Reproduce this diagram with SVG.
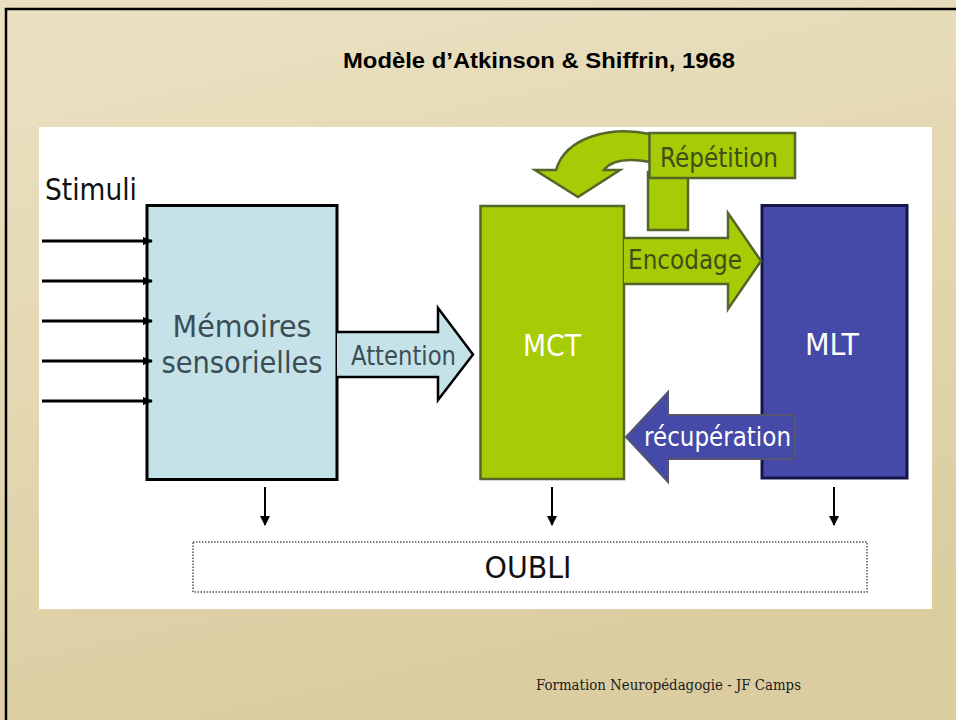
<svg xmlns="http://www.w3.org/2000/svg" width="956" height="720" viewBox="0 0 956 720">
  <defs>
    <linearGradient id="bg" x1="0" y1="0" x2="0.3" y2="1">
      <stop offset="0" stop-color="#ebe1c2"/>
      <stop offset="0.5" stop-color="#e4d8b2"/>
      <stop offset="1" stop-color="#dccda1"/>
    </linearGradient>
    <marker id="ah" markerUnits="userSpaceOnUse" markerWidth="10" markerHeight="10" viewBox="0 0 10 10" refX="9" refY="5" orient="auto">
      <path d="M0,1 L10,5 L0,9 Z" fill="#000"/>
    </marker>
    <marker id="ahd" markerUnits="userSpaceOnUse" markerWidth="10" markerHeight="12" viewBox="0 0 10 12" refX="9" refY="6" orient="auto">
      <path d="M0,1 L10,6 L0,11 Z" fill="#000"/>
    </marker>
    <style>
      .lbl { font-family: "DejaVu Sans", "Verdana", sans-serif; }
      .big { font-size: 31px; }
      .mid { font-size: 26px; }
      .dark { fill: #3b4c55; }
      .olive { fill: #3f4d18; }
      .white { fill: #ffffff; }
      .stim { stroke: #000; stroke-width: 3; fill: none; marker-end: url(#ah); }
      .down { stroke: #000; stroke-width: 2; fill: none; marker-end: url(#ahd); }
      .green { fill: #a5cc05; stroke: #56662a; stroke-width: 2.5; }
      .blue { fill: #4549a8; }
    </style>
  </defs>

  <!-- slide background -->
  <rect x="0" y="0" width="956" height="720" fill="url(#bg)"/>
  <path d="M6,720 V9 H956" fill="none" stroke="#000" stroke-width="2.5"/>

  <!-- title -->
  <text x="539" y="68" text-anchor="middle" font-family="'Liberation Sans', Arial, sans-serif" font-weight="bold" font-size="22" textLength="392" lengthAdjust="spacingAndGlyphs" fill="#000">Modèle d’Atkinson &amp; Shiffrin, 1968</text>

  <!-- white panel -->
  <rect x="39" y="127" width="893" height="482" fill="#ffffff"/>

  <!-- Stimuli label -->
  <text class="lbl big" x="45" y="200" textLength="92" lengthAdjust="spacingAndGlyphs" fill="#111">Stimuli</text>

  <!-- Mémoires sensorielles -->
  <g id="memoires">
    <rect x="147" y="205.5" width="190" height="274" fill="#c4e2e8" stroke="#000" stroke-width="3"/>
    <text class="lbl big dark" x="242" y="337" text-anchor="middle" textLength="139" lengthAdjust="spacingAndGlyphs">Mémoires</text>
    <text class="lbl big dark" x="242" y="373" text-anchor="middle" textLength="161" lengthAdjust="spacingAndGlyphs">sensorielles</text>
  </g>

  <!-- MCT -->
  <g id="mct">
    <rect x="480.5" y="206" width="143.5" height="273" class="green"/>
    <text class="lbl big white" x="552" y="356" text-anchor="middle" textLength="58" lengthAdjust="spacingAndGlyphs">MCT</text>
  </g>

  <!-- MLT -->
  <g id="mlt">
    <rect x="762" y="205.5" width="145" height="272.5" class="blue" stroke="#15164a" stroke-width="3"/>
    <text class="lbl big white" x="832" y="355" text-anchor="middle" textLength="54" lengthAdjust="spacingAndGlyphs">MLT</text>
  </g>

  <!-- OUBLI -->
  <g id="oubli">
    <rect x="193" y="542" width="674" height="50" fill="#ffffff" stroke="#555" stroke-width="1.5" stroke-dasharray="1.5 1.5"/>
    <text class="lbl big" x="528" y="578" text-anchor="middle" textLength="87" lengthAdjust="spacingAndGlyphs" fill="#111">OUBLI</text>
  </g>

  <g id="connectors">
    <!-- stimuli inputs -->
    <g id="stimuli">
      <line class="stim" x1="42" y1="241" x2="152" y2="241"/>
      <line class="stim" x1="42" y1="281" x2="152" y2="281"/>
      <line class="stim" x1="42" y1="321" x2="152" y2="321"/>
      <line class="stim" x1="42" y1="361" x2="152" y2="361"/>
      <line class="stim" x1="42" y1="401" x2="152" y2="401"/>
    </g>

    <!-- Attention arrow -->
    <g id="attention">
      <path d="M337,332 H438 V308 L473,354.5 L438,400 V377 H337" fill="#c4e2e8" stroke="#000" stroke-width="2.5" stroke-linejoin="miter"/>
      <text class="lbl mid dark" x="403.5" y="365" text-anchor="middle" textLength="105" lengthAdjust="spacingAndGlyphs">Attention</text>
    </g>

    <!-- Répétition loop -->
    <g id="repetition">
      <path d="M650,134 C612,126 566,136 556,170 L535,170 L578,197 L620,170 L604,170 C612,160 628,158 650,162 Z" class="green" stroke-linejoin="miter"/>
      <rect x="648" y="172" width="40" height="58" class="green"/>
      <rect x="649.5" y="133" width="145.5" height="45" class="green"/>
      <text class="lbl mid olive" x="719" y="167" text-anchor="middle" textLength="118" lengthAdjust="spacingAndGlyphs">Répétition</text>
    </g>

    <!-- Encodage arrow -->
    <g id="encodage">
      <path d="M624,238 H728 V213 L761,261 L728,309 V284 H624" class="green"/>
      <text class="lbl mid olive" x="685" y="269" text-anchor="middle" textLength="114" lengthAdjust="spacingAndGlyphs">Encodage</text>
    </g>

    <!-- récupération arrow -->
    <g id="recuperation">
      <path d="M795,415 H668 V392 L626,437 L668,482 V459 H795 Z" class="blue" stroke="#55566e" stroke-width="2"/>
      <text class="lbl mid white" x="717.5" y="446" text-anchor="middle" textLength="147" lengthAdjust="spacingAndGlyphs">récupération</text>
    </g>

    <!-- forgetting arrows -->
    <g id="forget">
      <line class="down" x1="265" y1="487" x2="265" y2="525"/>
      <line class="down" x1="552" y1="487" x2="552" y2="525"/>
      <line class="down" x1="834" y1="487" x2="834" y2="525"/>
    </g>
  </g>

  <!-- footer -->
  <text x="536" y="690" font-family="'DejaVu Serif', 'Liberation Serif', serif" font-size="14" textLength="265" lengthAdjust="spacingAndGlyphs" fill="#1a1a1a">Formation Neuropédagogie - JF Camps</text>
</svg>
